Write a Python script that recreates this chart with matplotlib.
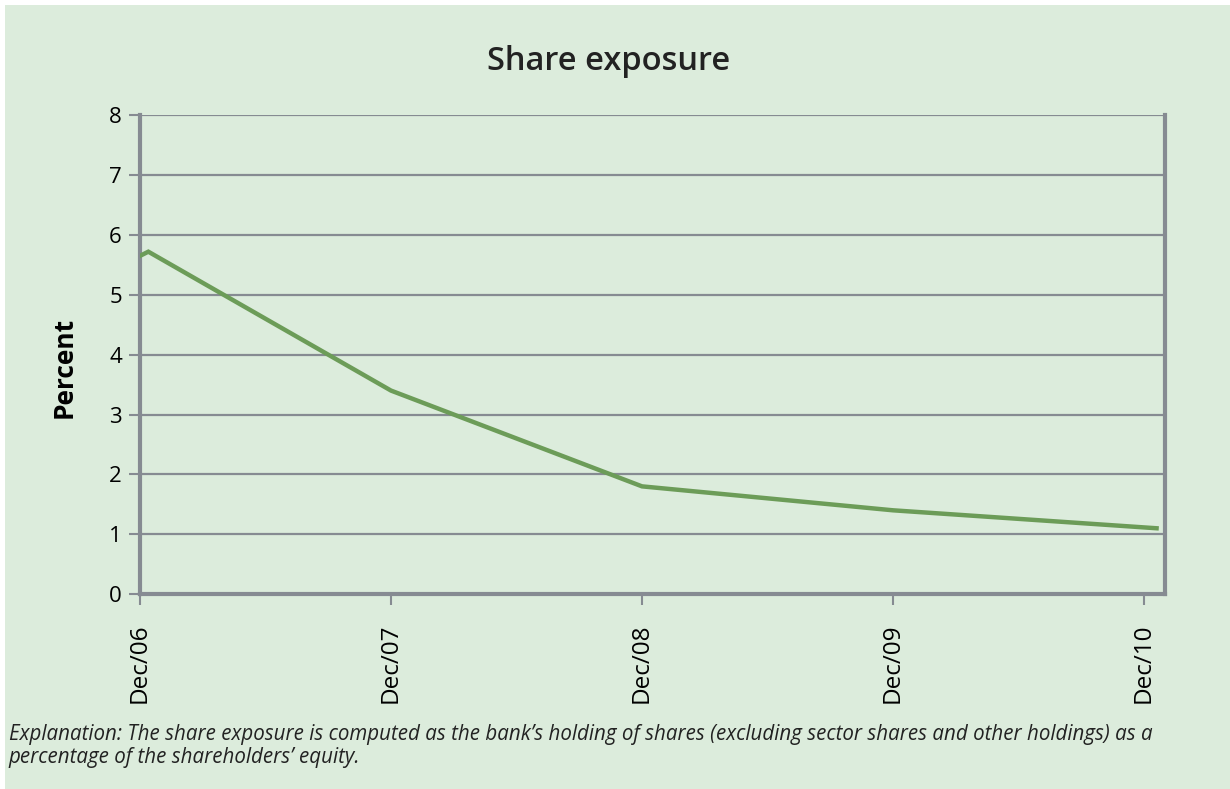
import matplotlib
matplotlib.use("Agg")
import matplotlib.pyplot as plt
import matplotlib.patches as patches

# months after Dec/06
months = [0, 0.4, 12, 24, 36, 48.6]
share_exposure = [5.65, 5.72, 3.4, 1.8, 1.4, 1.1]
tick_months = [0, 12, 24, 36, 48]
tick_labels = ["Dec/06", "Dec/07", "Dec/08", "Dec/09", "Dec/10"]

bg = "#dcecdc"
grid_col = "#868b92"

plt.rcParams['font.family'] = ['Open Sans', 'DejaVu Sans']

fig = plt.figure(figsize=(12.3, 7.89), dpi=100)
fig.patch.set_facecolor("white")
fig.patches.append(patches.Rectangle((5 / 1230, 0), 1, 1 - 5 / 789, transform=fig.transFigure,
                                     facecolor=bg, edgecolor="none", zorder=-10))

ax = fig.add_axes([0.1138, 0.247, 0.8333, 0.607])
ax.set_facecolor(bg)

ax.plot(months, share_exposure, color="#6c9c58", linewidth=3.2, solid_joinstyle="miter", zorder=3)

ax.set_xlim(0, 49.0)
ax.set_ylim(0, 8)
ax.set_yticks(range(0, 9))
ax.set_xticks(tick_months)
ax.set_xticklabels(tick_labels, rotation=90, fontsize=17.5)
ax.tick_params(axis="y", labelsize=16, length=8, width=1.5, color=grid_col, pad=5)
ax.tick_params(axis="x", length=8, width=1.5, color=grid_col, pad=13)
ax.yaxis.grid(True, color=grid_col, linewidth=1.6)
ax.set_axisbelow(True)

for side in ["left", "bottom", "right"]:
    ax.spines[side].set_color(grid_col)
    ax.spines[side].set_linewidth(3)
ax.spines["top"].set_visible(False)

ax.set_ylabel("Percent", fontsize=19, fontweight="bold")
ax.yaxis.set_label_coords(-0.061, 0.474)

fig.text(0.4945, 0.922, "Share exposure", fontsize=23.5, fontweight="semibold", ha="center", va="center", color="#222222")

fig.text(0.007, 0.0545, "Explanation: The share exposure is computed as the bank\u2019s holding of shares (excluding sector shares and other holdings) as a\npercentage of the shareholders\u2019 equity.",
         fontsize=14.8, style="italic", ha="left", va="center", linespacing=1.1, color="#222222")

plt.savefig("out.png", dpi=100, facecolor=fig.get_facecolor())
